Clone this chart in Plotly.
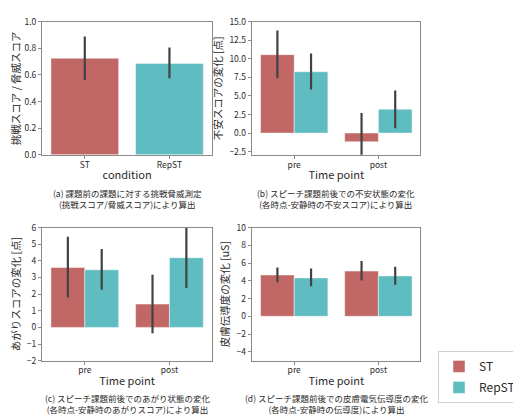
import plotly.graph_objects as go

# ---- data ----
conditions = ["ST", "RepST"]
timepoints = ["pre", "post"]

a_mean = [0.726, 0.687]
a_hi = [0.890, 0.806]
a_lo = [0.563, 0.575]

b_st_mean = [10.57, -1.17]
b_st_hi = [13.83, 2.70]
b_st_lo = [7.39, -4.20]
b_rep_mean = [8.26, 3.22]
b_rep_hi = [10.74, 5.74]
b_rep_lo = [5.87, 0.65]

c_st_mean = [3.60, 1.40]
c_st_hi = [5.45, 3.17]
c_st_lo = [1.79, -0.36]
c_rep_mean = [3.46, 4.19]
c_rep_hi = [4.71, 6.30]
c_rep_lo = [2.27, 2.37]

d_st_mean = [4.66, 5.10]
d_st_hi = [5.50, 6.24]
d_st_lo = [3.85, 4.04]
d_rep_mean = [4.33, 4.55]
d_rep_hi = [5.39, 5.58]
d_rep_lo = [3.38, 3.56]

captions = [
    "(a) 課題前の課題に対する挑戦脅威測定<br>(挑戦スコア/脅威スコア)により算出",
    "(b) スピーチ課題前後での不安状態の変化<br>(各時点-安静時の不安スコア)により算出",
    "(c) スピーチ課題前後でのあがり状態の変化<br>(各時点-安静時のあがりスコア)により算出",
    "(d) スピーチ課題前後での皮膚電気伝導度の変化<br>(各時点-安静時の伝導度)により算出",
]

# ---- style ----
OFF = 8  # default page body margin
W, H = 521 - OFF, 420 - OFF
ST_COL = "#c16867"
REP_COL = "#5fbcc1"
ERR_COL = "#424242"
SPINE = "#8a8a8a"
FONT = "Noto Sans CJK JP, DejaVu Sans, sans-serif"
TXT = "#2a2a2a"


def px_x(x):
    return (x - OFF) / W


def px_y(y):
    return 1 - (y - OFF) / H


def err(mean, hi, lo):
    return dict(type="data", symmetric=False,
                array=[h - m for h, m in zip(hi, mean)],
                arrayminus=[m - l for m, l in zip(mean, lo)],
                color=ERR_COL, thickness=2.2, width=0)


fig = go.Figure()
edge = dict(color="rgba(255,255,255,0.45)", width=1)

# (a)
fig.add_trace(go.Bar(x=conditions, y=a_mean, marker=dict(color=[ST_COL, REP_COL], line=edge),
                     error_y=err(a_mean, a_hi, a_lo), showlegend=False,
                     xaxis="x", yaxis="y"))
# (b)
fig.add_trace(go.Bar(x=timepoints, y=b_st_mean, name="ST", marker=dict(color=ST_COL, line=edge),
                     error_y=err(b_st_mean, b_st_hi, b_st_lo), legendgroup="ST",
                     xaxis="x2", yaxis="y2"))
fig.add_trace(go.Bar(x=timepoints, y=b_rep_mean, name="RepST", marker=dict(color=REP_COL, line=edge),
                     error_y=err(b_rep_mean, b_rep_hi, b_rep_lo), legendgroup="RepST",
                     xaxis="x2", yaxis="y2"))
# (c)
fig.add_trace(go.Bar(x=timepoints, y=c_st_mean, name="ST", marker=dict(color=ST_COL, line=edge),
                     error_y=err(c_st_mean, c_st_hi, c_st_lo), showlegend=False,
                     xaxis="x3", yaxis="y3"))
fig.add_trace(go.Bar(x=timepoints, y=c_rep_mean, name="RepST", marker=dict(color=REP_COL, line=edge),
                     error_y=err(c_rep_mean, c_rep_hi, c_rep_lo), showlegend=False,
                     xaxis="x3", yaxis="y3"))
# (d)
fig.add_trace(go.Bar(x=timepoints, y=d_st_mean, name="ST", marker=dict(color=ST_COL, line=edge),
                     error_y=err(d_st_mean, d_st_hi, d_st_lo), showlegend=False,
                     xaxis="x4", yaxis="y4"))
fig.add_trace(go.Bar(x=timepoints, y=d_rep_mean, name="RepST", marker=dict(color=REP_COL, line=edge),
                     error_y=err(d_rep_mean, d_rep_hi, d_rep_lo), showlegend=False,
                     xaxis="x4", yaxis="y4"))

xdom_l = [px_x(43), px_x(215)]
xdom_r = [px_x(256), px_x(427)]
ydom_t = [px_y(152), px_y(15)]
ydom_b = [px_y(364), px_y(227)]

common_ax = dict(showline=True, linecolor=SPINE, linewidth=1, mirror=True,
                 ticks="outside", ticklen=3.5, tickcolor=SPINE, tickwidth=1,
                 showgrid=False, zeroline=False,
                 tickfont=dict(size=8.5, color=TXT, family=FONT))
x_ax = dict(common_ax, ticklabelstandoff=-2)
xt = dict(font=dict(size=11, color=TXT, family=FONT), standoff=2)
yt = dict(font=dict(size=10.5, color=TXT, family=FONT), standoff=4)

fig.update_layout(
    width=W, height=H, margin=dict(l=0, r=0, t=0, b=0),
    paper_bgcolor="white", plot_bgcolor="white",
    font=dict(family=FONT, color=TXT),
    barmode="group", bargap=0.2, bargroupgap=0,
    xaxis=dict(domain=xdom_l, anchor="y", range=[-0.5, 1.5], title=dict(text="condition", **xt), **x_ax),
    yaxis=dict(domain=ydom_t, anchor="x", range=[0, 1.0], tickvals=[0, 0.2, 0.4, 0.6, 0.8, 1.0],
               tickformat=".1f", title=dict(text="挑戦スコア / 脅威スコア", **yt), **common_ax),
    xaxis2=dict(domain=xdom_r, anchor="y2", range=[-0.5, 1.5], title=dict(text="Time point", **xt), **x_ax),
    yaxis2=dict(domain=ydom_t, anchor="x2", range=[-2.93, 15.0],
                tickvals=[-2.5, 0, 2.5, 5, 7.5, 10, 12.5, 15], tickformat=".1f",
                title=dict(text="不安スコアの変化 [点]", **yt), **common_ax),
    xaxis3=dict(domain=xdom_l, anchor="y3", range=[-0.5, 1.5], title=dict(text="Time point", **xt), **x_ax),
    yaxis3=dict(domain=ydom_b, anchor="x3", range=[-2, 6], tickvals=list(range(-2, 7)),
                title=dict(text="あがりスコアの変化 [点]", **yt), **common_ax),
    xaxis4=dict(domain=xdom_r, anchor="y4", range=[-0.5, 1.5], title=dict(text="Time point", **xt), **x_ax),
    yaxis4=dict(domain=ydom_b, anchor="x4", range=[-5, 10], tickvals=list(range(-4, 11, 2)),
                title=dict(text="皮膚伝導度の変化 [uS]", **yt), **common_ax),
    legend=dict(x=px_x(445), y=px_y(354), xanchor="left", yanchor="top",
                bordercolor="#d0d0d0", borderwidth=1, bgcolor="white",
                font=dict(size=12, color=TXT, family=FONT), tracegroupgap=2),
)

cap_pos = [(129, 197), (341.5, 197), (129, 408), (341.5, 408)]
for text, (cx, cy) in zip(captions, cap_pos):
    fig.add_annotation(text=text, x=px_x(cx), y=px_y(cy), xref="paper", yref="paper",
                       xanchor="center", yanchor="middle", showarrow=False,
                       font=dict(size=8.5, color=TXT, family=FONT), align="center")

fig.write_html("out.html")
